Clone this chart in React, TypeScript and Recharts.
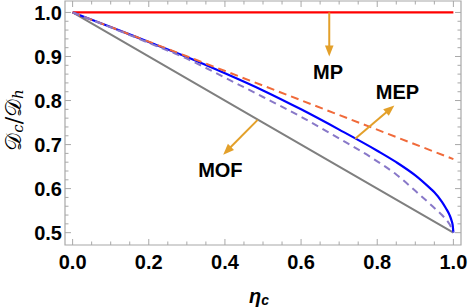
import React from 'react';
import { LineChart, Line, XAxis, YAxis, ReferenceLine, ReferenceArea, ReferenceDot } from 'recharts';

// ---- data ----
const etaCurve = [0, 0.1, 0.2, 0.3, 0.4, 0.5, 0.6, 0.7, 0.8, 0.85, 0.9, 0.94, 0.95, 0.97, 0.98, 0.99, 0.995, 0.998, 1.0];
const blueValues = [1.0, 0.967, 0.933, 0.899, 0.862, 0.823, 0.78, 0.734, 0.686, 0.66, 0.63, 0.6, 0.592, 0.57, 0.556, 0.54, 0.528, 0.518, 0.5];
const purpleValues = [1.0, 0.966, 0.931, 0.895, 0.852, 0.808, 0.763, 0.714, 0.662, 0.632, 0.595, 0.564, 0.556, 0.54, 0.531, 0.519, 0.511, 0.505, 0.5];
const etaLinear = [0, 0.5, 1.0];
const redValues = [1.0, 1.0, 1.0];
const orangeValues = [1.0, 0.834, 0.667];
const grayValues = [1.0, 0.75, 0.5];

const xTicks = [0, 0.2, 0.4, 0.6, 0.8, 1.0];
const yTicks = [0.5, 0.6, 0.7, 0.8, 0.9, 1.0];
const xTickLabels = ['0.0', '0.2', '0.4', '0.6', '0.8', '1.0'];
const yTickLabels = ['0.5', '0.6', '0.7', '0.8', '0.9', '1.0'];

const X_DOMAIN: [number, number] = [-0.02, 1.02];
const Y_DOMAIN: [number, number] = [0.472, 1.026];

const arrowMP = { from: { x: 0.674, y: 1.0 }, to: { x: 0.674, y: 0.9 } };
const arrowMEP = { from: { x: 0.742, y: 0.713 }, to: { x: 0.845, y: 0.789 } };
const arrowMOF = { from: { x: 0.486, y: 0.756 }, to: { x: 0.3955, y: 0.677 } };
const textMP = { x: 0.671, y: 0.866, label: 'MP' };
const textMEP = { x: 0.853, y: 0.819, label: 'MEP' };
const textMOF = { x: 0.388, y: 0.6425, label: 'MOF' };

const build = (xs: number[], ys: number[]) => xs.map((x, i) => ({ x, y: ys[i] }));
const blueData = build(etaCurve, blueValues);
const purpleData = build(etaCurve, purpleValues);
const redData = build(etaLinear, redValues);
const orangeData = build(etaLinear, orangeValues);
const grayData = build(etaLinear, grayValues);

const xMinor: number[] = [];
for (let i = 0; i <= 20; i++) xMinor.push(+(i * 0.05).toFixed(2));
const yMinor: number[] = [];
for (let i = 0; i <= 25; i++) yMinor.push(+(0.5 + i * 0.02).toFixed(2));

const FRAME = '#a8a8a8';
const ARROW = '#E3A02A';
const FONT = '"Liberation Sans", Arial, sans-serif';

const isMajor = (v: number, step: number) => Math.abs(v / step - Math.round(v / step)) < 1e-6;

const ArrowShape = (props: any) => {
  const { x1, y1, x2, y2 } = props;
  const dx = x2 - x1;
  const dy = y2 - y1;
  const len = Math.hypot(dx, dy) || 1;
  const ux = dx / len;
  const uy = dy / len;
  const hl = 11;
  const hw = 4.3;
  const bx = x2 - ux * hl;
  const by = y2 - uy * hl;
  return (
    <g>
      <line x1={x1} y1={y1} x2={bx + ux * 2} y2={by + uy * 2} stroke={ARROW} strokeWidth={2} />
      <polygon
        points={`${x2},${y2} ${bx - uy * hw},${by + ux * hw} ${bx + uy * hw},${by - ux * hw}`}
        fill={ARROW}
      />
    </g>
  );
};

const makeText = (label: string) => (props: any) => (
  <text
    x={props.cx}
    y={props.cy}
    dy="0.36em"
    textAnchor="middle"
    fontFamily={FONT}
    fontWeight="bold"
    fontSize={20}
    fill="#000"
  >
    {label}
  </text>
);

const YLabel = (props: any) => {
  const vb = props.viewBox || { x: 0, y: 0, width: 65, height: 244 };
  const cx = vb.x + 13;
  const cy = vb.y + vb.height / 2 - 3;
  return (
    <text
      x={cx}
      y={cy}
      transform={`rotate(-90, ${cx}, ${cy})`}
      textAnchor="middle"
      dominantBaseline="central"
      fontFamily='"DejaVu Serif", serif'
      fontSize={22}
      fill="#000"
    >
      <tspan>𝒟</tspan>
      <tspan fontSize={15} fontStyle="italic" dy={5}>c</tspan>
      <tspan dy={-5}>/𝒟</tspan>
      <tspan fontSize={15} fontStyle="italic" dy={5}>h</tspan>
    </text>
  );
};

const XLabel = (props: any) => {
  const vb = props.viewBox || { x: 65, y: 245, width: 396, height: 62 };
  const cx = vb.x + vb.width / 2 - 4;
  const cy = vb.y + 51;
  return (
    <text x={cx} y={cy} textAnchor="middle" dominantBaseline="central" fontFamily={FONT} fontSize={20} fontWeight="bold" fontStyle="italic" fill="#000">
      <tspan>η</tspan>
      <tspan fontSize={14} dy={4}>c</tspan>
    </text>
  );
};

export default function App() {
  const tickStyle = { fontFamily: FONT, fontSize: 20, fontWeight: 'bold' as const, fill: '#000' };
  return (
    <div style={{ position: 'absolute', left: 0, top: 0, width: 469, height: 307, background: '#fff' }}>
      <LineChart width={469} height={307} margin={{ top: 1, right: 8, bottom: 0, left: 0 }}>
        <XAxis
          type="number"
          dataKey="x"
          domain={X_DOMAIN}
          allowDataOverflow
          ticks={xTicks}
          tickFormatter={(v: number) => xTickLabels[xTicks.indexOf(v)] ?? v.toFixed(1)}
          tick={tickStyle}
          tickLine={false}
          axisLine={false}
          tickSize={0}
          tickMargin={10}
          height={62}
          interval={0}
          label={{ content: <XLabel /> } as any}
        />
        <YAxis
          type="number"
          dataKey="y"
          domain={Y_DOMAIN}
          allowDataOverflow
          ticks={yTicks}
          tickFormatter={(v: number) => yTickLabels[yTicks.indexOf(v)] ?? v.toFixed(1)}
          tick={tickStyle}
          tickLine={false}
          axisLine={false}
          tickSize={0}
          tickMargin={3}
          width={65}
          interval={0}
          label={{ content: <YLabel /> } as any}
        />
        <ReferenceArea x1={X_DOMAIN[0]} x2={X_DOMAIN[1]} y1={Y_DOMAIN[0]} y2={Y_DOMAIN[1]} fill="none" stroke={FRAME} strokeWidth={1.2} ifOverflow="visible" />
        {xMinor.map((v) => {
          const len = isMajor(v, 0.2) ? 6 / 440 : 3.5 / 440;
          return (
            <React.Fragment key={'xt' + v}>
              <ReferenceLine segment={[{ x: v, y: Y_DOMAIN[0] }, { x: v, y: Y_DOMAIN[0] + len }]} stroke={FRAME} strokeWidth={1} ifOverflow="visible" />
              <ReferenceLine segment={[{ x: v, y: Y_DOMAIN[1] }, { x: v, y: Y_DOMAIN[1] - len }]} stroke={FRAME} strokeWidth={1} ifOverflow="visible" />
            </React.Fragment>
          );
        })}
        {yMinor.map((v) => {
          const len = isMajor(v, 0.1) ? 6 / 380.8 : 3.5 / 380.8;
          return (
            <React.Fragment key={'yt' + v}>
              <ReferenceLine segment={[{ x: X_DOMAIN[0], y: v }, { x: X_DOMAIN[0] + len, y: v }]} stroke={FRAME} strokeWidth={1} ifOverflow="visible" />
              <ReferenceLine segment={[{ x: X_DOMAIN[1], y: v }, { x: X_DOMAIN[1] - len, y: v }]} stroke={FRAME} strokeWidth={1} ifOverflow="visible" />
            </React.Fragment>
          );
        })}
        <Line data={grayData} dataKey="y" type="linear" stroke="#7f7f7f" strokeWidth={2} dot={false} isAnimationActive={false} />
        <Line data={redData} dataKey="y" type="linear" stroke="#ff0000" strokeWidth={2.2} dot={false} isAnimationActive={false} />
        <Line data={blueData} dataKey="y" type="monotone" stroke="#0000ff" strokeWidth={2.2} dot={false} isAnimationActive={false} />
        <Line data={orangeData} dataKey="y" type="linear" stroke="#F06A3A" strokeWidth={2} strokeDasharray="8 5" dot={false} isAnimationActive={false} />
        <Line data={purpleData} dataKey="y" type="monotone" stroke="#8878C8" strokeWidth={2} strokeDasharray="7 5" dot={false} isAnimationActive={false} />
        <ReferenceLine segment={[arrowMP.from, arrowMP.to]} shape={ArrowShape} ifOverflow="visible" />
        <ReferenceLine segment={[arrowMEP.from, arrowMEP.to]} shape={ArrowShape} ifOverflow="visible" />
        <ReferenceLine segment={[arrowMOF.from, arrowMOF.to]} shape={ArrowShape} ifOverflow="visible" />
        <ReferenceDot x={textMP.x} y={textMP.y} r={0} shape={makeText(textMP.label)} ifOverflow="visible" />
        <ReferenceDot x={textMEP.x} y={textMEP.y} r={0} shape={makeText(textMEP.label)} ifOverflow="visible" />
        <ReferenceDot x={textMOF.x} y={textMOF.y} r={0} shape={makeText(textMOF.label)} ifOverflow="visible" />
      </LineChart>
    </div>
  );
}
